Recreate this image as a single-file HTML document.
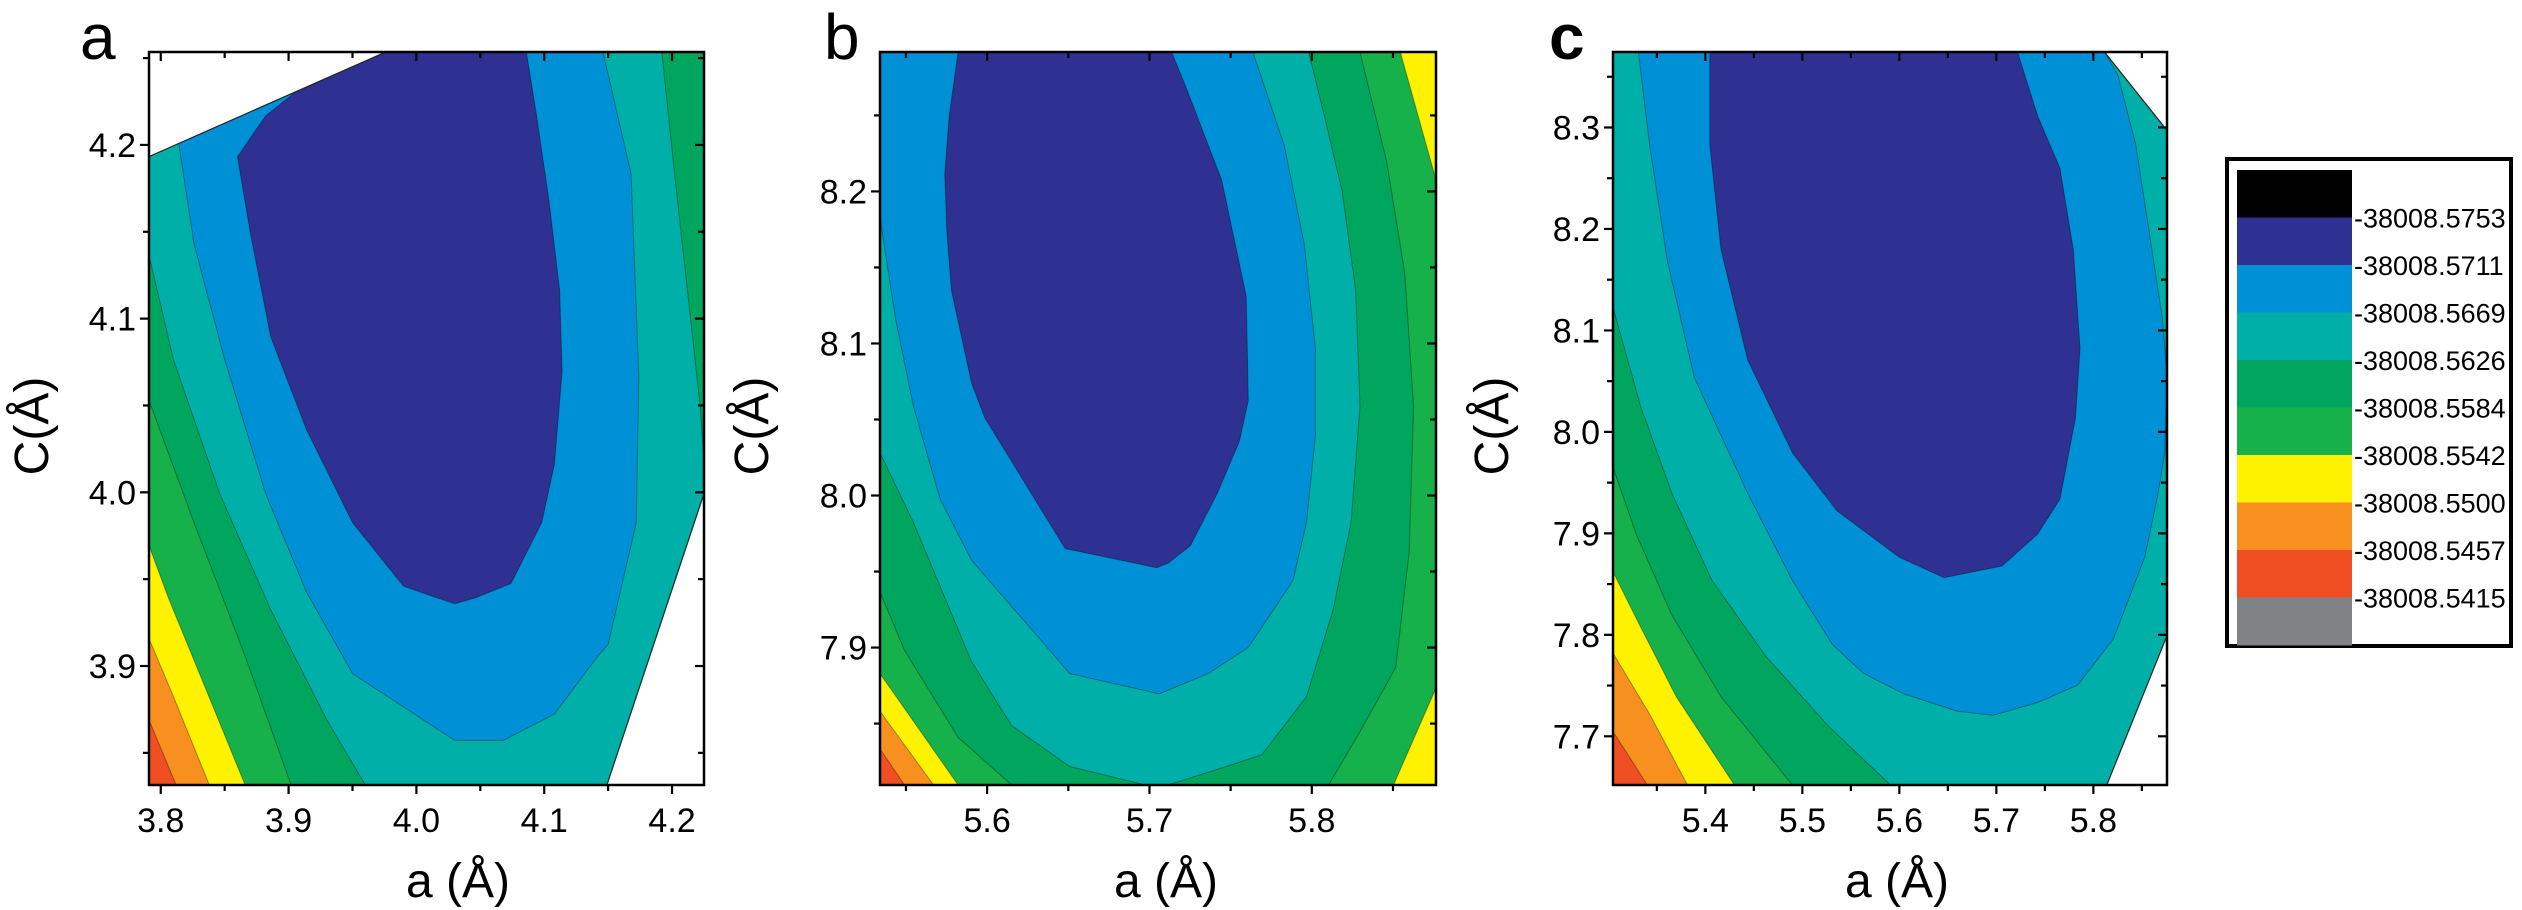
<!DOCTYPE html>
<html><head><meta charset="utf-8"><style>
html,body{margin:0;padding:0;background:#fff;}
svg{display:block;font-family:"Liberation Sans",Arial,sans-serif;}
</style></head><body>
<svg id="fig" width="2522" height="910" viewBox="0 0 2522 910" xmlns="http://www.w3.org/2000/svg">
<defs>
<clipPath id="clipa"><rect x="149" y="52" width="555" height="733"/></clipPath>
<clipPath id="clipb"><rect x="880" y="52" width="556" height="733"/></clipPath>
<clipPath id="clipc"><rect x="1613" y="52" width="554" height="733"/></clipPath>
</defs>
<g id="legend">
<rect x="2227" y="159" width="284" height="487" fill="#fff" stroke="#000" stroke-width="4"/>
</g>
</svg>
<script>
// ---- Legend data ----
const legendLevels = ["-38008.5753","-38008.5711","-38008.5669","-38008.5626","-38008.5584","-38008.5542","-38008.5500","-38008.5457","-38008.5415"];
const legendColors = ["#000000","#2e3192","#0090d6","#00b0a8","#00a65d","#16b14b","#fff200","#f7901e","#ef4f23","#808285"];

// ---- Panel a ----
const aXTicks = [3.8,3.9,4.0,4.1,4.2];
const aXMinor = [3.85,3.95,4.05,4.15];
const aYTicks = [3.9,4.0,4.1,4.2];
const aYMinor = [3.85,3.95,4.05,4.15,4.25];
const aDomainX = [3.7908,4.225];
const aDomainY = [3.8315,4.2535];
const aDkGreen = [[3.7908,4.1365],[3.81,4.0763],[3.846,3.9993],[3.886,3.9325],[3.93,3.8689],[3.96,3.8315],[3.7908,3.8315]];
const aGreen = [[3.7908,4.0529],[3.826,3.9826],[3.866,3.9057],[3.902,3.8315],[3.7908,3.8315]];
const aYellow = [[3.7908,3.9693],[3.806,3.9392],[3.834,3.889],[3.866,3.8315],[3.7908,3.8315]];
const aOrange = [[3.7908,3.9158],[3.81,3.8823],[3.838,3.8315],[3.7908,3.8315]];
const aRed = [[3.7908,3.8689],[3.812,3.8315],[3.7908,3.8315]];
const aDkGreenR = [[4.192,4.2535],[4.225,4.2535],[4.225,4.0161],[4.222,4.0495],[4.212,4.1164],[4.202,4.1833]];
const aBlue = [[3.814,4.201],[3.826,4.1431],[3.85,4.0763],[3.882,3.9993],[3.914,3.9425],[3.95,3.8957],[4.002,3.8706],[4.03,3.8572],[4.068,3.8572],[4.108,3.8723],[4.142,3.9057],[4.15,3.9124],[4.172,3.9826],[4.174,4.0662],[4.168,4.1833],[4.146,4.2535],[3.976,4.2535]];
const aNavy = [[3.906,4.2308],[3.976,4.2535],[4.086,4.2535],[4.094,4.2167],[4.104,4.1666],[4.112,4.1164],[4.114,4.0696],[4.108,4.0161],[4.098,3.9826],[4.074,3.9475],[4.046,3.9392],[4.03,3.9358],[3.99,3.9459],[3.95,3.9826],[3.914,4.0361],[3.886,4.0896],[3.87,4.1498],[3.86,4.1933],[3.882,4.2167]];
const aWhiteTop = [[3.7908,4.2535],[3.976,4.2535],[3.7908,4.1933]];
const aWhiteBR = [[4.225,3.9993],[4.225,3.8315],[4.149,3.8315]];

// ---- Panel b ----
const bXTicks = [5.6,5.7,5.8];
const bXMinor = [5.55,5.65,5.75,5.85];
const bYTicks = [7.9,8.0,8.1,8.2];
const bYMinor = [7.85,7.95,8.05,8.15,8.25];
const bDomainX = [5.534,5.8765];
const bDomainY = [7.8096,8.2917];
const bDkGreen = [[5.534,8.2917],[5.8297,8.2917],[5.8462,8.2191],[5.8572,8.1465],[5.8627,8.0587],[5.86,7.9632],[5.8517,7.8868],[5.8297,7.8447],[5.8104,7.8096],[5.6151,7.8096],[5.5821,7.8409],[5.5491,7.8982],[5.534,7.9364]];
const bTeal = [[5.534,8.2917],[5.7981,8.2917],[5.8077,8.2497],[5.8187,8.2],[5.827,8.1351],[5.8297,8.0587],[5.8242,7.9823],[5.8132,7.925],[5.7967,7.8677],[5.7692,7.8295],[5.7472,7.8218],[5.7114,7.8096],[5.6977,7.8096],[5.6509,7.8218],[5.6151,7.8486],[5.5904,7.8906],[5.5546,7.9823],[5.534,8.0281]];
const bBlue = [[5.534,8.2917],[5.7637,8.2917],[5.7829,8.2306],[5.7953,8.1656],[5.8022,8.0969],[5.8022,8.0396],[5.7967,7.9823],[5.7884,7.9441],[5.7609,7.9001],[5.7362,7.8829],[5.7059,7.8696],[5.6509,7.8829],[5.6261,7.9135],[5.5904,7.9574],[5.5711,7.9975],[5.5546,8.0587],[5.5436,8.116],[5.5353,8.1733],[5.534,8.1847]];
const bNavy = [[5.5821,8.2917],[5.7136,8.2917],[5.7224,8.2688],[5.7444,8.2076],[5.7596,8.1312],[5.7609,8.0625],[5.7554,8.0357],[5.7417,8.0014],[5.7252,7.967],[5.7114,7.9555],[5.7045,7.9525],[5.6481,7.9651],[5.6206,8.0128],[5.5986,8.051],[5.5904,8.0739],[5.578,8.1351],[5.5752,8.1733],[5.5739,8.2115],[5.5766,8.2497]];
const bYellow = [[5.534,7.8829],[5.5821,7.8096],[5.534,7.8096]];
const bOrange = [[5.534,7.8581],[5.567,7.8096],[5.534,7.8096]];
const bRed = [[5.534,7.8333],[5.5491,7.8096],[5.534,7.8096]];
const bYellowTR = [[5.8545,8.2917],[5.8765,8.2917],[5.8765,8.2076]];
const bYellowBR = [[5.8765,7.8734],[5.8765,7.8096],[5.8503,7.8096]];

// ---- Panel c ----
const cXTicks = [5.4,5.5,5.6,5.7,5.8];
const cXMinor = [5.35,5.45,5.55,5.65,5.75,5.85];
const cYTicks = [7.7,7.8,7.9,8.0,8.1,8.2,8.3];
const cYMinor = [7.75,7.85,7.95,8.05,8.15,8.25,8.35];
const cDomainX = [5.3048,5.8759];
const cDomainY = [7.652,8.3744];
const cTeal = [[5.3048,8.3744],[5.8759,8.3744],[5.8759,7.652],[5.5908,7.652],[5.5264,7.7104],[5.4621,7.7791],[5.4069,7.8535],[5.3655,7.9394],[5.3333,8.0252],[5.3048,8.1226]];
const cGreen = [[5.3048,7.9651],[5.3287,7.8993],[5.3655,7.8192],[5.4161,7.739],[5.4897,7.652],[5.3048,7.652]];
const cYellow = [[5.3048,7.8621],[5.3333,7.8077],[5.3701,7.739],[5.4299,7.652],[5.3048,7.652]];
const cOrange = [[5.3048,7.782],[5.3425,7.7219],[5.3816,7.652],[5.3048,7.652]];
const cRed = [[5.3048,7.7047],[5.3402,7.652],[5.3048,7.652]];
const cBlue = [[5.331,8.3744],[5.8115,8.3744],[5.8253,8.3515],[5.8437,8.2828],[5.8575,8.197],[5.8713,8.1111],[5.8759,8.0539],[5.8736,7.9795],[5.8667,7.9394],[5.8529,7.8764],[5.8207,7.7963],[5.7839,7.7505],[5.7425,7.7333],[5.6966,7.7207],[5.6598,7.7247],[5.6046,7.7419],[5.5632,7.7619],[5.531,7.7905],[5.4897,7.8535],[5.4437,7.9394],[5.3885,8.0539],[5.3609,8.1683],[5.3425,8.2828]];
const cNavy = [[5.4046,8.3744],[5.7218,8.3744],[5.7425,8.3114],[5.7655,8.2599],[5.7793,8.1798],[5.7862,8.0825],[5.7816,8.0138],[5.7655,7.9337],[5.7425,7.8993],[5.7057,7.8678],[5.646,7.8564],[5.6,7.8764],[5.5356,7.9222],[5.4897,7.9795],[5.4437,8.071],[5.4161,8.1798],[5.4046,8.2828]];
const cWhiteTR = [[5.8115,8.3744],[5.8759,8.3744],[5.8759,8.2971]];
const cWhiteBR = [[5.8759,7.7991],[5.8759,7.652],[5.8138,7.652]];

const NS = "http://www.w3.org/2000/svg";
const svg = document.getElementById("fig");
function mk(tag, attrs, parent){
  const e = document.createElementNS(NS, tag);
  for (const k in attrs) e.setAttribute(k, attrs[k]);
  (parent||svg).appendChild(e);
  return e;
}

function drawPanel(id, box, domX, domY, layers, xt, xm, yt, ym, letter, letterX, yTitleX, xTitleX){
  const sx = v => box.l + (v - domX[0]) / (domX[1] - domX[0]) * (box.r - box.l);
  const sy = v => box.b - (v - domY[0]) / (domY[1] - domY[0]) * (box.b - box.t);
  const g = mk("g", {});
  
  
  const cg = mk("g", {"clip-path": "url(#clip" + id + ")"}, g);
  
  
  layers.forEach(L => {
    let p;
    if (L.pts === null) {
      p = mk("rect", {x: box.l, y: box.t, width: box.r - box.l, height: box.b - box.t, fill: L.color}, cg);
    } else {
      p = mk("polygon", {points: L.pts.map(q => sx(q[0]).toFixed(1) + "," + sy(q[1]).toFixed(1)).join(" "), fill: L.color, stroke: L.white ? "#222" : "rgba(0,0,0,0.35)", "stroke-width": L.white ? 1.2 : 1}, cg);
    }
    
    
  });
  const fr = mk("rect", {x: box.l, y: box.t, width: box.r - box.l, height: box.b - box.t, fill: "none", stroke: "#000", "stroke-width": 2.5}, g);
  
  
  const tk = (x1,y1,x2,y2) => {
    const t = mk("line", {x1:x1,y1:y1,x2:x2,y2:y2,stroke:"#000","stroke-width":2.2}, g);
    
    
  };
  xt.forEach(v => {
    const x = sx(v);
    tk(x, box.b, x, box.b + 9); tk(x, box.t, x, box.t + 9);
    const t = mk("text", {x: x, y: box.b + 47, "font-size": 34, "text-anchor": "middle", fill: "#000"}, g);
    t.textContent = v.toFixed(1);
    
    
  });
  xm.forEach(v => { const x = sx(v); tk(x, box.b, x, box.b + 6); tk(x, box.t, x, box.t + 6); });
  yt.forEach(v => {
    const y = sy(v);
    tk(box.l - 9, y, box.l, y); tk(box.r - 9, y, box.r, y);
    const t = mk("text", {x: box.l - 13, y: y + 12, "font-size": 34, "text-anchor": "end", fill: "#000"}, g);
    t.textContent = v.toFixed(1);
    
    
  });
  ym.forEach(v => { const y = sy(v); if (y >= box.t - 1 && y <= box.b) { tk(box.l - 6, y, box.l, y); tk(box.r - 6, y, box.r, y); } });
  const xt1 = mk("text", {x: xTitleX, y: 897, "font-size": 48, "text-anchor": "middle", fill: "#000"}, g);
  xt1.textContent = "a (Å)";
  
  
  const yt1 = mk("text", {x: 0, y: 0, "font-size": 48, "text-anchor": "middle", fill: "#000", transform: "translate(" + yTitleX + ",426) rotate(-90)"}, g);
  yt1.textContent = "C(Å)";
  
  
  const lt = mk("text", {x: letterX, y: 59, "font-size": 64, fill: "#000", "font-weight": id === "c" ? "bold" : "normal"}, g);
  lt.textContent = letter;
  
  
}

const NAVY="#2e3192", BLUE="#0090d6", TEAL="#00b0a8", DKG="#00a65d", GRN="#16b14b", YEL="#fff200", ORG="#f7901e", RED="#ef4f23";

drawPanel("a", {l:149, r:704, t:52, b:785}, aDomainX, aDomainY, [
  {name:"teal", color:TEAL, pts:null},
  {name:"dark-green", color:DKG, pts:aDkGreen},
  {name:"green", color:GRN, pts:aGreen},
  {name:"yellow", color:YEL, pts:aYellow},
  {name:"orange", color:ORG, pts:aOrange},
  {name:"red", color:RED, pts:aRed},
  {name:"dark-green-right", color:DKG, pts:aDkGreenR},
  {name:"blue", color:BLUE, pts:aBlue},
  {name:"navy", color:NAVY, pts:aNavy},
  {name:"blank-top", color:"#fff", pts:aWhiteTop, white:true},
  {name:"blank-bottom-right", color:"#fff", pts:aWhiteBR, white:true}
], aXTicks, aXMinor, aYTicks, aYMinor, "a", 80, 48, 458);

drawPanel("b", {l:880, r:1436, t:52, b:785}, bDomainX, bDomainY, [
  {name:"green", color:GRN, pts:null},
  {name:"dark-green", color:DKG, pts:bDkGreen},
  {name:"teal", color:TEAL, pts:bTeal},
  {name:"blue", color:BLUE, pts:bBlue},
  {name:"navy", color:NAVY, pts:bNavy},
  {name:"yellow", color:YEL, pts:bYellow},
  {name:"orange", color:ORG, pts:bOrange},
  {name:"red", color:RED, pts:bRed},
  {name:"yellow-top-right", color:YEL, pts:bYellowTR},
  {name:"yellow-bottom-right", color:YEL, pts:bYellowBR}
], bXTicks, bXMinor, bYTicks, bYMinor, "b", 824, 768, 1166);

drawPanel("c", {l:1613, r:2167, t:52, b:785}, cDomainX, cDomainY, [
  {name:"dark-green", color:DKG, pts:null},
  {name:"teal", color:TEAL, pts:cTeal},
  {name:"green", color:GRN, pts:cGreen},
  {name:"yellow", color:YEL, pts:cYellow},
  {name:"orange", color:ORG, pts:cOrange},
  {name:"red", color:RED, pts:cRed},
  {name:"blue", color:BLUE, pts:cBlue},
  {name:"navy", color:NAVY, pts:cNavy},
  {name:"blank-top-right", color:"#fff", pts:cWhiteTR, white:true},
  {name:"blank-bottom-right", color:"#fff", pts:cWhiteBR, white:true}
], cXTicks, cXMinor, cYTicks, cYMinor, "c", 1549, 1508, 1897);

// ---- Legend ----
const lg = document.getElementById("legend");
const slotTop = 170, slotH = 47.5;
legendColors.forEach((c, i) => {
  const r = mk("rect", {x: 2237, y: slotTop + i * slotH, width: 115, height: slotH + 0.5, fill: c}, lg);
  
  
});
legendLevels.forEach((s, i) => {
  const t = mk("text", {x: 2354, y: slotTop + (i + 1) * slotH + 10, "font-size": 27, fill: "#000"}, lg);
  t.textContent = s;
  
  
});
</script>
</body></html>
